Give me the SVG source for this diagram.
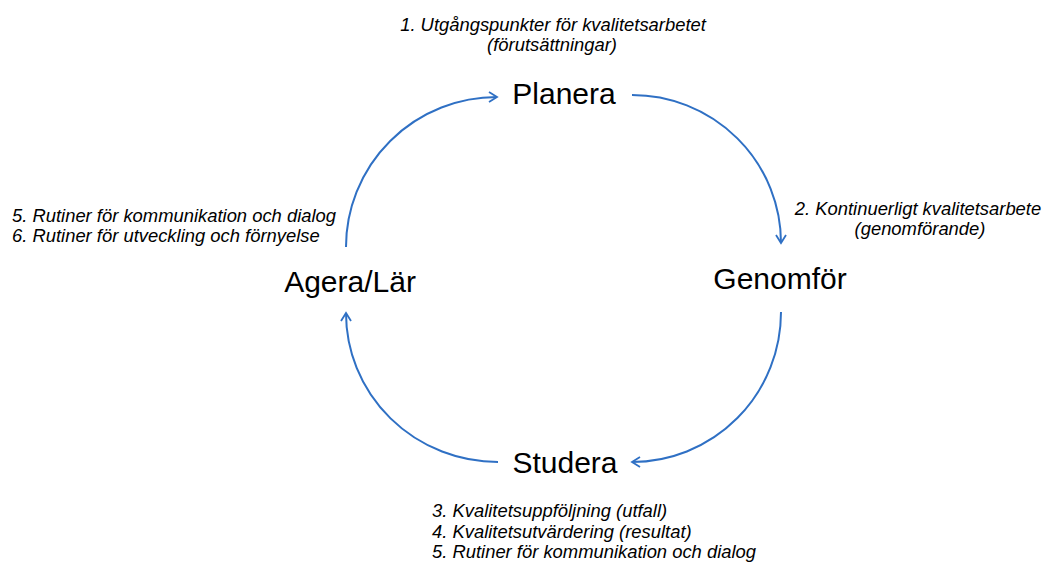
<svg xmlns="http://www.w3.org/2000/svg" width="1044" height="563" viewBox="0 0 1044 563">
<style>
.node{font-family:"Liberation Sans",Arial,sans-serif;font-size:30px;fill:#000;text-anchor:middle}
.lbl{font-family:"Liberation Sans",Arial,sans-serif;font-size:18.4px;font-style:italic;fill:#000}
.c{stroke:#2F70C4;stroke-width:2;fill:none}
</style>
<defs>
<marker id="ah" viewBox="0 0 12 12" refX="10" refY="6" markerWidth="12" markerHeight="12" markerUnits="userSpaceOnUse" orient="auto">
<path d="M2,1 L10,6 L2,11" fill="none" stroke="#2F70C4" stroke-width="1.8"/>
</marker>
</defs>
<rect width="1044" height="563" fill="#fff"/>
<g id="connectors">
<path class="c" d="M632,95 A149,148 0 0 1 781,243" marker-end="url(#ah)"/>
<path class="c" d="M781,312 A149,150 0 0 1 632,462" marker-end="url(#ah)"/>
<path class="c" d="M498,462 A152,149 0 0 1 346,313" marker-end="url(#ah)"/>
<path class="c" d="M346,247 A151,150 0 0 1 497,97" marker-end="url(#ah)"/>
</g>
<g id="planera">
<text class="node" x="564" y="104">Planera</text>
<text class="lbl" x="553" y="31" text-anchor="middle">1. Utgångspunkter för kvalitetsarbetet</text>
<text class="lbl" x="552" y="51" text-anchor="middle">(förutsättningar)</text>
</g>
<g id="genomfor">
<text class="node" x="780" y="289">Genomför</text>
<text class="lbl" x="918" y="215" text-anchor="middle">2. Kontinuerligt kvalitetsarbete</text>
<text class="lbl" x="920" y="235" text-anchor="middle">(genomförande)</text>
</g>
<g id="studera">
<text class="node" x="565" y="473">Studera</text>
<text class="lbl" x="432" y="517">3. Kvalitetsuppföljning (utfall)</text>
<text class="lbl" x="432" y="538">4. Kvalitetsutvärdering (resultat)</text>
<text class="lbl" x="432" y="558">5. Rutiner för kommunikation och dialog</text>
</g>
<g id="agera">
<text class="node" x="350" y="292">Agera/Lär</text>
<text class="lbl" x="12" y="222">5. Rutiner för kommunikation och dialog</text>
<text class="lbl" x="12" y="242">6. Rutiner för utveckling och förnyelse</text>
</g>
</svg>
